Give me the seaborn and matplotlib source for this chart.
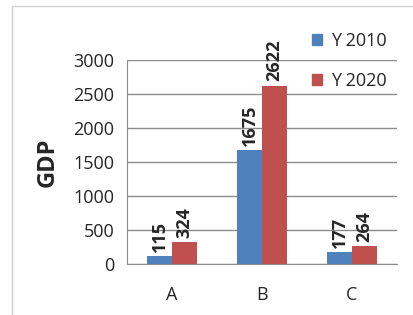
import seaborn as sns
import numpy as np
import matplotlib.pyplot as plt
import pandas as pd
from matplotlib.patches import Rectangle

## GDP values
categories = ["A", "B", "C"]
series = ["Y 2010", "Y 2020"]
gdp_2010 = [115, 1675, 177]
gdp_2020 = [324, 2622, 264]
yticks = [0, 500, 1000, 1500, 2000, 2500, 3000]

# long form table for seaborn
df = pd.DataFrame({
    "country": categories * 2,
    "year": [series[0]] * 3 + [series[1]] * 3,
    "gdp": gdp_2010 + gdp_2020,
})

sns.set_style("white")
plt.rcParams['font.family'] = ['Open Sans', 'DejaVu Sans']

fig = plt.figure(figsize=(4.14, 3.15), dpi=100)
ax = fig.add_axes([0.307, 0.162, 0.652, 0.648])

sns.barplot(data=df, x="country", y="gdp", hue="year", order=categories,
            hue_order=series, palette=["#4F81BD", "#C0504D"], width=0.56,
            saturation=1, ax=ax, legend=False, linewidth=0, edgecolor="none")

# value labels, rotated, above each bar
for cont in ax.containers:
    ax.bar_label(cont, rotation=90, padding=3, fontsize=13, fontweight="bold")

ax.set_ylim(0, 3000)
ax.set_xlim(-0.5, 2.5)
ax.set_yticks(yticks)
ax.yaxis.grid(True, color="#8c8c8c", linewidth=1)
ax.set_axisbelow(True)
for s in ["top", "right"]:
    ax.spines[s].set_visible(False)
ax.spines["left"].set_color("#8c8c8c")
ax.spines["bottom"].set_color("#8c8c8c")
ax.set_xlabel("")
ax.set_ylabel("GDP", fontsize=17, fontweight="bold", labelpad=10)
ax.tick_params(axis="y", labelsize=13, length=4, color="#8c8c8c", pad=5)
ax.tick_params(axis="x", which="major", labelsize=13, length=0, pad=16)
ax.set_xticks([-0.5, 0.5, 1.5, 2.5], minor=True)
ax.tick_params(axis="x", which="minor", length=5, color="#8c8c8c", direction="out")

# legend squares in the top right
handles = [Rectangle((0, 0), 1, 1, color=c) for c in ["#4F81BD", "#C0504D"]]
fig.legend(handles, series, loc="upper left", bbox_to_anchor=(0.715, 0.95),
           frameon=False, fontsize=13, handlelength=0.55, handleheight=0.55,
           handletextpad=0.5, labelspacing=1.2)

# chart border
fig.add_artist(Rectangle((0.03, -0.05), 1.2, 1.03, transform=fig.transFigure,
                         fill=False, edgecolor="#d0d0d0", linewidth=1))

fig.savefig("out.png", dpi=100)
